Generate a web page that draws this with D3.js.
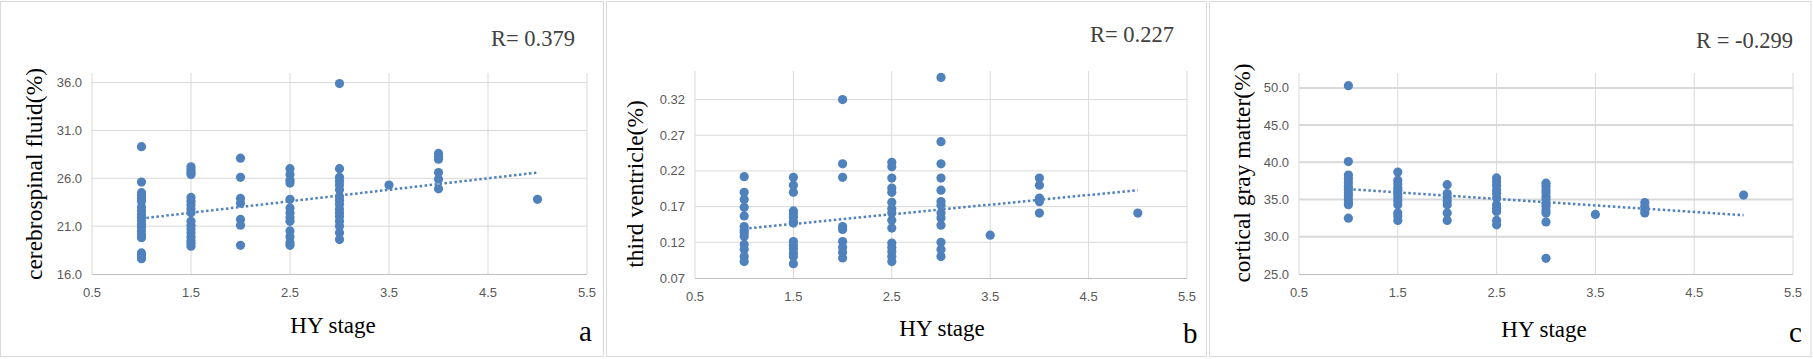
<!DOCTYPE html>
<html>
<head>
<meta charset="utf-8">
<script src="https://cdn.jsdelivr.net/npm/d3@7.9.0/dist/d3.min.js"></script>
<style>
  html, body { margin: 0; padding: 0; background: #fff; }
  svg { display: block; }
  .tick-label { font-family: "Liberation Sans", Arial, sans-serif; font-size: 13px; fill: #595959; }
  .serif { font-family: "Liberation Serif", "Times New Roman", serif; fill: #000; }
</style>
</head>
<body>
<svg id="chart" width="1813" height="359"></svg>
<script>
// HY stage columns, shared by all three panels
const stages = [1, 1.5, 2, 2.5, 3, 3.5, 4, 5];
const xTicks = [0.5, 1.5, 2.5, 3.5, 4.5, 5.5];
const trendStages = [1, 5];

// panel a: cerebrospinal fluid (%)
const csfValues = [
  [29.3, 25.6, 24.5, 24.2, 23.9, 23.6, 23.0, 22.6, 22.2, 21.9, 21.6, 21.2, 20.9, 20.5, 20.1, 19.8, 18.2, 17.9, 17.6],
  [27.2, 26.9, 26.6, 26.4, 24.0, 23.6, 23.2, 22.8, 22.4, 21.5, 21.1, 20.7, 20.3, 19.9, 19.5, 19.2, 18.9],
  [28.1, 26.1, 23.9, 23.4, 21.7, 21.1, 19.0],
  [27.0, 26.4, 25.8, 25.5, 23.8, 22.9, 22.4, 21.9, 21.5, 20.5, 19.9, 19.3, 19.0],
  [35.9, 27.0, 26.1, 25.7, 25.3, 24.8, 24.1, 23.7, 23.3, 22.8, 22.4, 22.0, 21.5, 21.0, 20.3, 19.6],
  [25.3],
  [28.6, 28.3, 28.0, 26.6, 25.9, 24.9],
  [23.8]
];
const csfTicks = [16, 21, 26, 31, 36];
const csfTrend = [21.8, 26.6];

// panel b: third ventricle (%)
const thirdValues = [
  [0.212, 0.19, 0.18, 0.169, 0.157, 0.142, 0.137, 0.133, 0.128, 0.117, 0.11, 0.1, 0.093],
  [0.211, 0.2, 0.19, 0.164, 0.16, 0.155, 0.149, 0.147, 0.121, 0.116, 0.111, 0.105, 0.1, 0.09],
  [0.32, 0.23, 0.211, 0.142, 0.138, 0.121, 0.113, 0.106, 0.098],
  [0.232, 0.226, 0.21, 0.196, 0.19, 0.176, 0.167, 0.161, 0.151, 0.14, 0.119, 0.113, 0.107, 0.1, 0.093],
  [0.351, 0.261, 0.23, 0.21, 0.193, 0.177, 0.172, 0.161, 0.154, 0.144, 0.12, 0.11, 0.1],
  [0.13],
  [0.21, 0.2, 0.182, 0.177, 0.161],
  [0.161]
];
const thirdTicks = [0.07, 0.12, 0.17, 0.22, 0.27, 0.32];
const thirdTrend = [0.139, 0.193];

// panel c: cortical gray matter (%)
const grayValues = [
  [50.3, 40.1, 38.3, 37.8, 37.3, 36.8, 36.4, 35.9, 35.5, 35.0, 34.6, 34.3, 32.5],
  [38.7, 37.6, 37.1, 36.6, 36.2, 35.7, 35.3, 34.8, 34.3, 33.2, 32.8, 32.2],
  [37.0, 35.8, 35.3, 34.8, 34.3, 33.2, 32.2],
  [37.9, 37.4, 36.9, 36.3, 35.8, 35.2, 34.3, 33.8, 33.4, 32.2, 31.6],
  [37.2, 36.8, 36.3, 35.9, 35.4, 35.0, 34.5, 34.1, 33.6, 33.2, 32.0, 27.1],
  [33.0],
  [34.6, 34.1, 33.6, 33.2],
  [35.6]
];
const grayTicks = [25, 30, 35, 40, 45, 50];
const grayTrend = [36.4, 32.9];

const panels = [
  { values: csfValues, ticks: csfTicks, trend: csfTrend, yMax: 37, fmt: d3.format('.1f'),
    yTitle: 'cerebrospinal fluid(%)', r: 'R= 0.379', letter: 'a',
    box: [0.5, 1.5, 603, 355], plot: [92, 587, 73, 274], gridW: 1,
    yTitlePos: [34, 174], xTitlePos: [333, 333], rPos: [491, 46], letterPos: [579, 341] },
  { values: thirdValues, ticks: thirdTicks, trend: thirdTrend, yMax: 0.36, fmt: d3.format('.2f'),
    yTitle: 'third ventricle(%)', r: 'R= 0.227', letter: 'b',
    box: [606.5, 1.5, 600, 355], plot: [695, 1187, 71, 278], gridW: 1,
    yTitlePos: [635, 184], xTitlePos: [942, 336], rPos: [1090, 42], letterPos: [1183, 343] },
  { values: grayValues, ticks: grayTicks, trend: grayTrend, yMax: 52, fmt: d3.format('.1f'),
    yTitle: 'cortical gray matter(%)', r: 'R = -0.299', letter: 'c',
    box: [1209.5, 1.5, 1601 - 1209.5 + 210, 355], plot: [1299, 1793, 73, 274], gridW: 2,
    yTitlePos: [1242, 173], xTitlePos: [1544, 337], rPos: [1696, 48], letterPos: [1789, 342] }
];

const svg = d3.select('#chart');
const blue = '#4f81bd';

panels.forEach((p) => {
  const g = svg.append('g');
  const [left, right, top, bottom] = p.plot;

  g.append('rect')
    .attr('x', p.box[0]).attr('y', p.box[1])
    .attr('width', p.box[2]).attr('height', p.box[3])
    .attr('fill', 'none').attr('stroke', '#d9d9d9');

  const x = d3.scaleLinear().domain([0.5, 5.5]).range([left, right]);
  const y = d3.scaleLinear().domain([p.ticks[0], p.yMax]).range([bottom, top]);

  // horizontal grid
  g.selectAll('.hgrid').data(p.ticks.slice(1)).join('line')
    .attr('x1', left).attr('x2', right)
    .attr('y1', (d) => y(d)).attr('y2', (d) => y(d))
    .attr('stroke', '#d9d9d9').attr('stroke-width', p.gridW);

  // vertical grid
  g.selectAll('.vgrid').data(xTicks).join('line')
    .attr('x1', (d) => x(d)).attr('x2', (d) => x(d))
    .attr('y1', top).attr('y2', bottom)
    .attr('stroke', '#d9d9d9').attr('stroke-width', 1);

  // x axis line
  g.append('line')
    .attr('x1', left).attr('x2', right).attr('y1', bottom + 0.5).attr('y2', bottom + 0.5)
    .attr('stroke', '#bfbfbf');

  // tick labels
  g.selectAll('.ylab').data(p.ticks).join('text')
    .attr('class', 'tick-label')
    .attr('x', left - 10).attr('y', (d) => y(d))
    .attr('text-anchor', 'end').attr('dominant-baseline', 'central')
    .text(p.fmt);

  g.selectAll('.xlab').data(xTicks).join('text')
    .attr('class', 'tick-label')
    .attr('x', (d) => x(d)).attr('y', bottom + 23)
    .attr('text-anchor', 'middle')
    .text(d3.format('.1f'));

  // points
  const points = p.values.flatMap((col, i) => col.map((v) => [stages[i], v]));
  g.selectAll('circle').data(points).join('circle')
    .attr('cx', (d) => x(d[0])).attr('cy', (d) => y(d[1]))
    .attr('r', 4.6).attr('fill', blue);

  // dotted trend line
  const line = d3.line().x((d) => x(d[0])).y((d) => y(d[1]));
  g.append('path')
    .attr('d', line(trendStages.map((s, i) => [s, p.trend[i]])))
    .attr('fill', 'none').attr('stroke', blue)
    .attr('stroke-width', 2.5).attr('stroke-dasharray', '2.5,2.5');

  // titles
  g.append('text').attr('class', 'serif')
    .attr('transform', `translate(${p.yTitlePos[0]},${p.yTitlePos[1]}) rotate(-90)`)
    .attr('text-anchor', 'middle').attr('dominant-baseline', 'central')
    .style('font-size', '23.5px')
    .text(p.yTitle);

  g.append('text').attr('class', 'serif')
    .attr('x', p.xTitlePos[0]).attr('y', p.xTitlePos[1])
    .attr('text-anchor', 'middle').style('font-size', '23px')
    .text('HY stage');

  g.append('text').attr('class', 'serif')
    .attr('x', p.rPos[0]).attr('y', p.rPos[1])
    .style('font-size', '22.5px').style('fill', '#404040')
    .text(p.r);

  g.append('text').attr('class', 'serif')
    .attr('x', p.letterPos[0]).attr('y', p.letterPos[1])
    .style('font-size', '29px')
    .text(p.letter);
});
</script>
</body>
</html>
